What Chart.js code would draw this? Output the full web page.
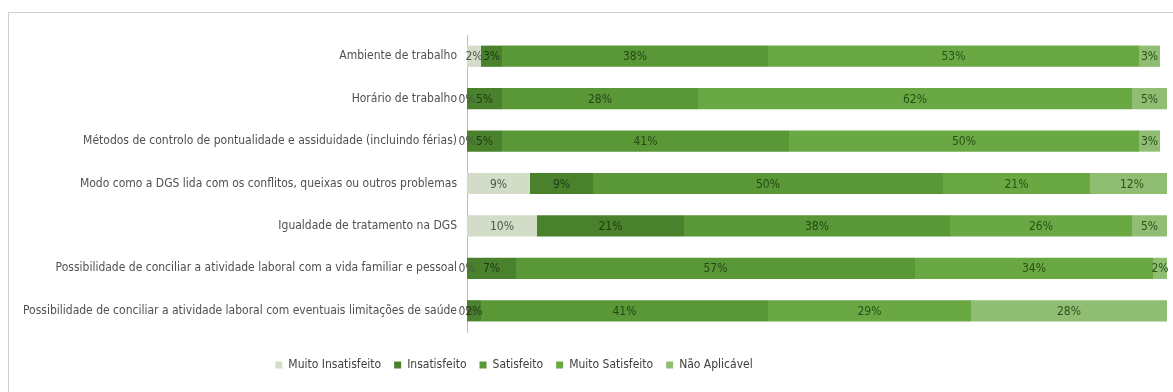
<!DOCTYPE html>
<html lang="pt">
<head>
<meta charset="utf-8">
<script src="https://cdn.jsdelivr.net/npm/chart.js@4.4.1/dist/chart.umd.min.js"></script>
<style>
  html, body { margin: 0; padding: 0; background: #fff; overflow: hidden; }
  #wrap { position: relative; width: 1173px; height: 392px; }
  #frame { position: absolute; left: 8px; top: 12px; width: 1200px; height: 420px;
           border: 1px solid #cfcfcf; box-sizing: border-box; }
  #c { position: absolute; left: 0; top: 0; }
</style>
</head>
<body>
<div id="wrap">
  <div id="frame"></div>
  <canvas id="c" width="1173" height="392"></canvas>
</div>
<script>
// Survey items (one horizontal bar each)
const categories = [
  'Ambiente de trabalho',
  'Horário de trabalho',
  'Métodos de controlo de pontualidade e assiduidade (incluindo férias)',
  'Modo como a DGS lida com os conflitos, queixas ou outros problemas',
  'Igualdade de tratamento na DGS',
  'Possibilidade de conciliar a atividade laboral com a vida familiar e pessoal',
  'Possibilidade de conciliar a atividade laboral com eventuais limitações de saúde'
];

// Answer shares in percent, per item
const muitoInsatisfeito = [2, 0, 0, 9, 10, 0, 0];
const insatisfeito      = [3, 5, 5, 9, 21, 7, 2];
const satisfeito        = [38, 28, 41, 50, 38, 57, 41];
const muitoSatisfeito   = [53, 62, 50, 21, 26, 34, 29];
const naoAplicavel      = [3, 5, 3, 12, 5, 2, 28];

const seriesNames  = ['Muito Insatisfeito', 'Insatisfeito', 'Satisfeito', 'Muito Satisfeito', 'Não Aplicável'];
const seriesValues = [muitoInsatisfeito, insatisfeito, satisfeito, muitoSatisfeito, naoAplicavel];
const seriesColors = ['#d2dcc6', '#4a812c', '#5a9737', '#6aa843', '#8fbe72'];
const labelColors  = ['#4d5946', '#1f3b12', '#244815', '#285018', '#2b521e'];

const FONT = '"Liberation Sans Narrow", "DejaVu Sans Condensed", "Liberation Sans", sans-serif';

// Writes each segment's value in the middle of the segment
const segmentLabels = {
  id: 'segmentLabels',
  afterDatasetsDraw(chart) {
    const ctx = chart.ctx;
    ctx.save();
    ctx.font = '12px ' + FONT;
    ctx.textAlign = 'center';
    ctx.textBaseline = 'middle';
    chart.data.datasets.forEach((ds, di) => {
      const meta = chart.getDatasetMeta(di);
      if (meta.hidden) return;
      meta.data.forEach((bar, i) => {
        const v = ds.data[i];
        const cx = (bar.x + bar.base) / 2;
        ctx.fillStyle = labelColors[di];
        ctx.fillText(v + '%', cx, bar.y + 1);
      });
    });
    ctx.restore();
  }
};

// Places the legend row under the bars, centred on a fixed x
const legendPlacement = {
  id: 'legendPlacement',
  afterLayout(chart) {
    const lg = chart.legend;
    if (!lg) return;
    const dx = 514 - (lg.left + lg.right) / 2;
    const dy = 14;
    lg.left += dx; lg.right += dx;
    lg.top += dy; lg.bottom += dy;
  }
};

new Chart(document.getElementById('c'), {
  type: 'bar',
  data: {
    labels: categories,
    datasets: seriesNames.map((name, k) => ({
      label: name,
      data: seriesValues[k],
      backgroundColor: seriesColors[k],
      borderWidth: 0,
      barPercentage: 0.5,
      categoryPercentage: 1.0
    }))
  },
  options: {
    indexAxis: 'y',
    responsive: false,
    animation: false,
    devicePixelRatio: 1,
    layout: { padding: { top: 35, right: 6, bottom: 25, left: 0 } },
    scales: {
      x: { stacked: true, min: 0, max: 100, display: false },
      y: {
        stacked: true,
        grid: { display: false, drawTicks: false },
        border: { display: true, color: '#bdbdbd', width: 1 },
        ticks: { color: '#505050', font: { family: FONT, size: 12 }, padding: 10, autoSkip: false },
        afterFit(scale) { scale.width = 467; }
      }
    },
    plugins: {
      legend: {
        position: 'bottom',
        labels: {
          boxWidth: 7, boxHeight: 7, padding: 13,
          color: '#404040',
          font: { family: FONT, size: 12 }
        }
      },
      tooltip: { enabled: false }
    }
  },
  plugins: [segmentLabels, legendPlacement]
});
</script>
</body>
</html>
